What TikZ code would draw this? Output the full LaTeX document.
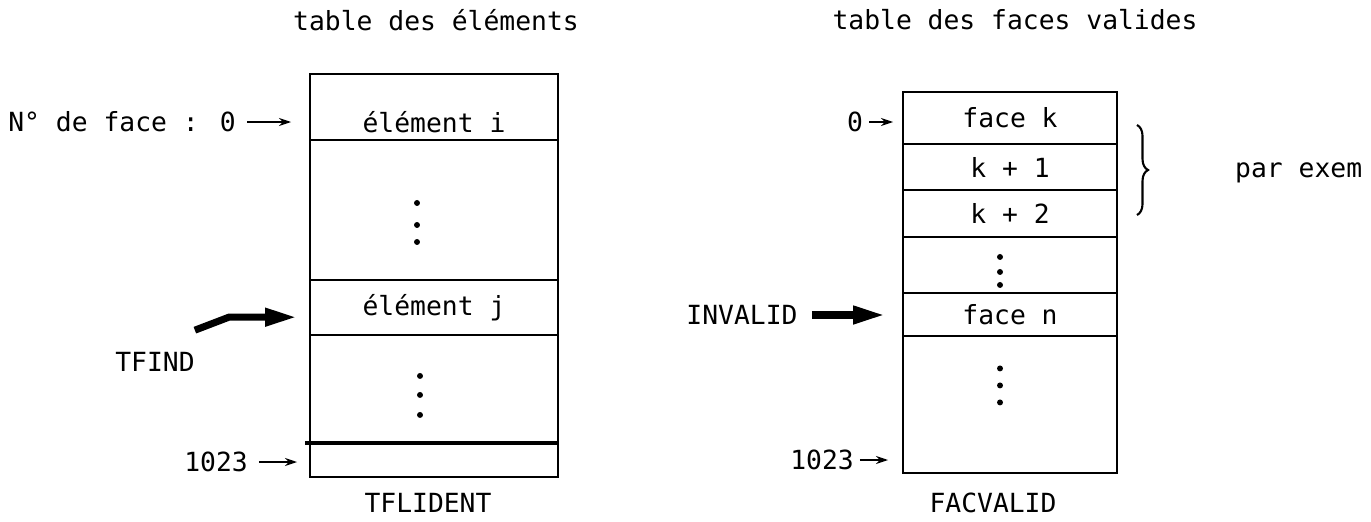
\documentclass[tikz,border=0pt]{standalone}
\usepackage{fontspec}
\setmainfont{DejaVu Sans Mono}
\usetikzlibrary{arrows.meta,positioning,decorations.pathreplacing}

\begin{document}
\begin{tikzpicture}[
  x=0.02cm, y=-0.02cm,
  every node/.style={font=\fontsize{15}{18}\selectfont},
  cell/.style={draw, line width=1.1pt, inner ysep=0pt, outer sep=0pt},
  lcell/.style={cell, minimum width=4.96cm},
  rcell/.style={cell, minimum width=4.28cm},
  ptr/.style={-{Stealth[length=0.24cm, width=0.16cm]}, line width=1pt},
  fat/.style={-{Triangle[length=0.64cm, width=0.34cm]}, line width=4pt},
  brace/.style={decorate, decoration={brace, amplitude=0.22cm}, line width=1.2pt}
]
\useasboundingbox (0,0) rectangle (1371,521);

% table des elements
\node (t1) at (436,20) {table des éléments};
\node[lcell, minimum height=1.32cm, text height=1.02cm] (ei) at (434,107) {élément i};
\node[lcell, minimum height=2.8cm, below=0pt of ei] (gap1) {};
\node[lcell, minimum height=1.1cm, below=0pt of gap1] (ej) {élément j};
\node[lcell, minimum height=2.16cm, below=0pt of ej] (gap2) {};
\node[lcell, minimum height=0.68cm, below=0pt of gap2] (last) {};
\draw[line width=2pt] ([xshift=-0.1cm]last.north west) -- (last.north east);
\foreach \d in {-7,15,32} \fill (gap1.center) ++(-17,\d) circle (1.7pt);
\foreach \d in {-13,6,26} \fill (gap2.center) ++(-14,\d) circle (1.7pt);
\node (tflident) at (428,503) {TFLIDENT};

\node[anchor=east] (nf) at (242,122) {N° de face : 0};
\draw[ptr, shorten <=0.1cm, shorten >=0.38cm] (nf.east) -- (nf.east -| ei.west);
\node (tfind) at (155,362) {TFIND};
\draw[fat, shorten >=0.26cm] ([shift={(-6,-16)}]tfind.north east) -- ++(34,-13) coordinate (tfbend) -- (tfbend -| ej.west);
\node (l1023) at (216,462) {1023};
\draw[ptr, shorten <=0.1cm, shorten >=0.26cm] (l1023.east) -- (l1023.east -| last.west);

% table des faces valides
\node (t2) at (1015,20) {table des faces valides};
\node[rcell, minimum height=1.04cm] (fk) at (1010,118) {face k};
\node[rcell, minimum height=0.92cm, below=0pt of fk] (k1) {k + 1};
\node[rcell, minimum height=0.94cm, below=0pt of k1] (k2) {k + 2};
\node[rcell, minimum height=1.12cm, below=0pt of k2] (gap3) {};
\node[rcell, minimum height=0.86cm, below=0pt of gap3] (fn) {face n};
\node[rcell, minimum height=2.74cm, below=0pt of fn] (rest) {};
\foreach \d in {-8,7,20} \fill (gap3.center) ++(-10,\d) circle (1.7pt);
\foreach \d in {-36,-19,-2} \fill (rest.center) ++(-10,\d) circle (1.7pt);
\node (facvalid) at (993,503) {FACVALID};

\node (z) at (855,122) {0};
\draw[ptr, shorten >=0.2cm] (z.east) -- (z.east -| fk.west);
\node (inv) at (742,315) {INVALID};
\draw[fat, shorten <=0.16cm, shorten >=0.36cm] (inv.east) -- (inv.east -| fn.west);
\node (r1023) at (822,460) {1023};
\draw[ptr, shorten >=0.3cm] (r1023.east) -- (r1023.east -| rest.west);

\draw[brace] (1137,125) -- (1137,215);
\node[anchor=west] (ex) at (1229,173) {par exem};
\end{tikzpicture}
\end{document}
